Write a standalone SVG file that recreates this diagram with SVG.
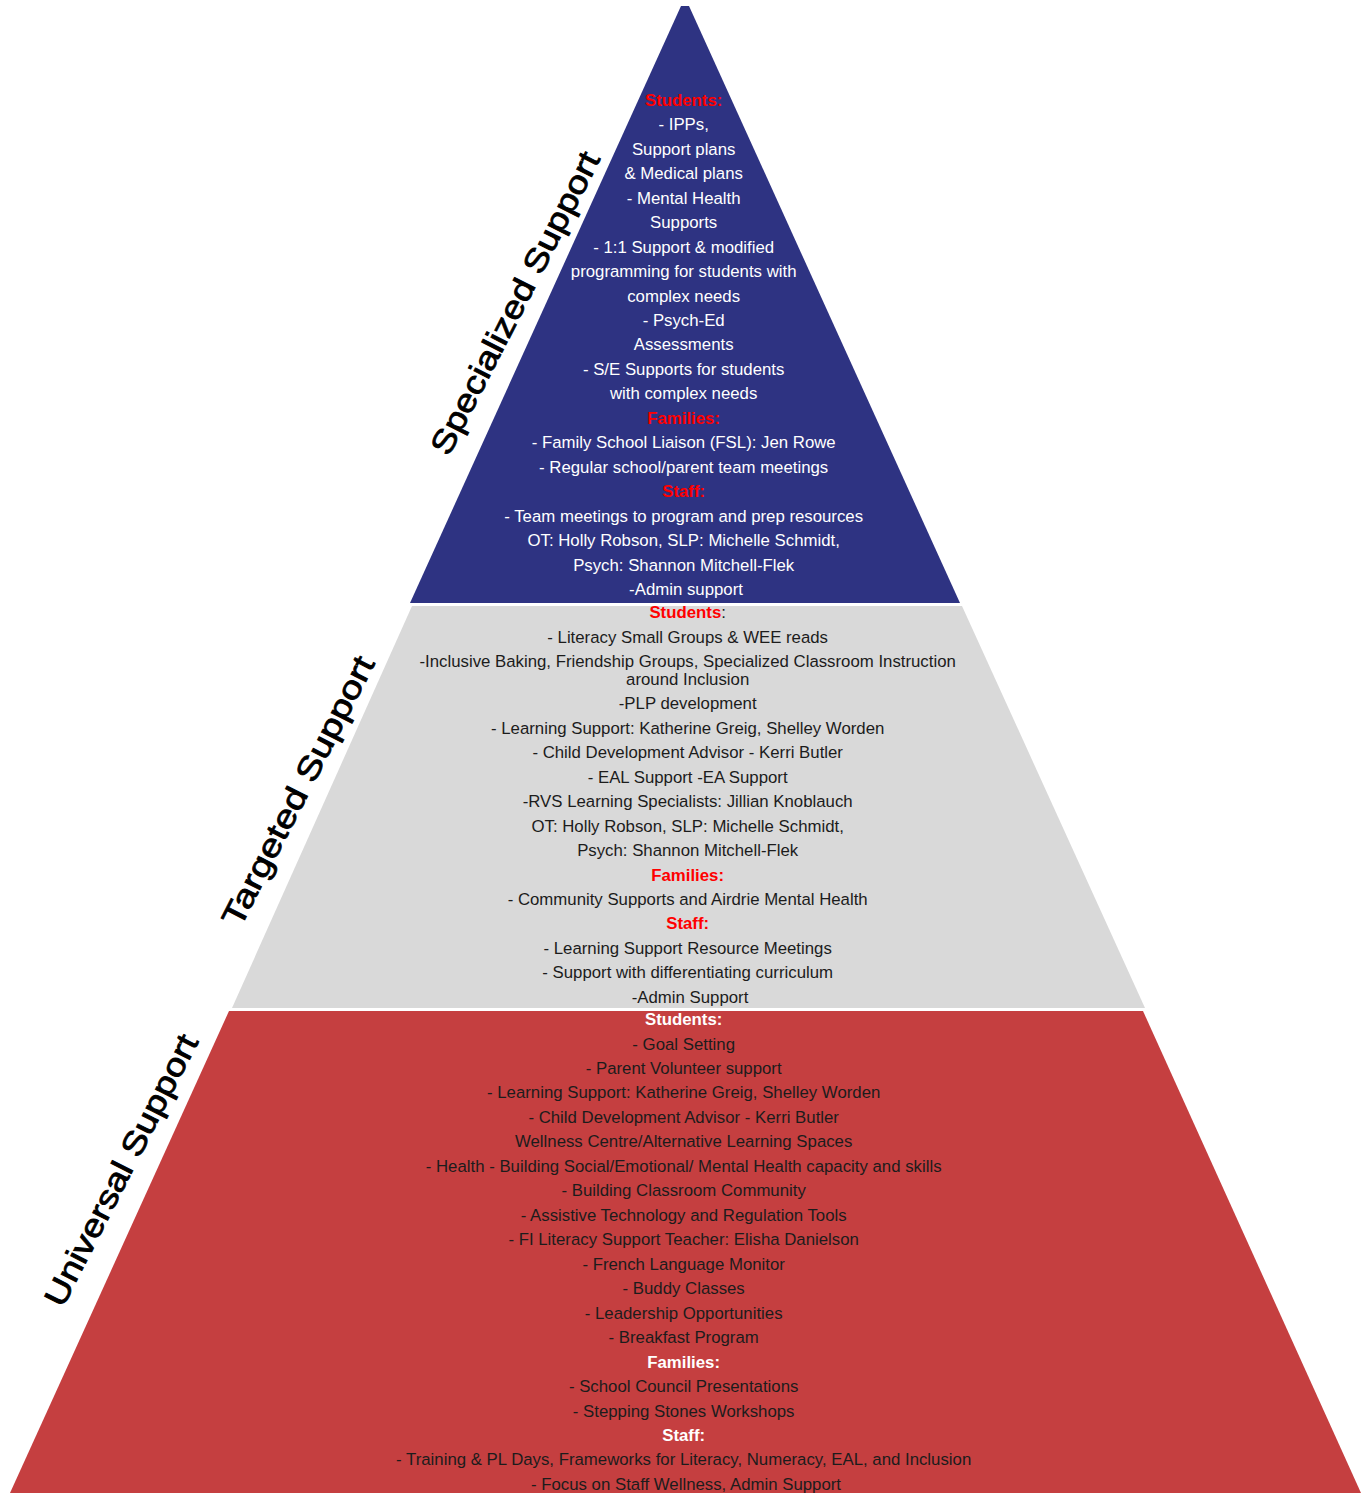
<svg xmlns="http://www.w3.org/2000/svg" width="1361" height="1493" viewBox="0 0 1361 1493">
<style>
.t{font-family:"Liberation Sans",Arial,sans-serif;font-size:16.8px;text-anchor:middle}
.w{fill:#ffffff}
.d{fill:#1c1c1c}
.h{font-weight:bold;fill:#ff0000}
.hw{font-weight:bold;fill:#ffffff}
.side{font-family:"Liberation Sans",Arial,sans-serif;font-size:32px;fill:#000;stroke:#000;stroke-width:0.8;text-anchor:middle}
</style>
<rect x="0" y="0" width="1361" height="1493" fill="#ffffff"/>
<g id="specialized">
<polygon points="681,6 689,6 960,603 410,603" fill="#2e3382"/>
<text class="t w">
<tspan x="686" y="106" class="h">Students:</tspan>
<tspan x="686" y="130">- IPPs,</tspan>
<tspan x="686" y="155">Support plans</tspan>
<tspan x="686" y="179">&amp;  Medical plans</tspan>
<tspan x="686" y="204">- Mental Health</tspan>
<tspan x="686" y="228">Supports</tspan>
<tspan x="686" y="253">-  1:1 Support &amp; modified</tspan>
<tspan x="686" y="277">programming for students with</tspan>
<tspan x="686" y="302">complex needs</tspan>
<tspan x="686" y="326">- Psych-Ed</tspan>
<tspan x="686" y="350">Assessments</tspan>
<tspan x="686" y="375">- S/E Supports for students</tspan>
<tspan x="686" y="399">with complex needs</tspan>
<tspan x="686" y="424" class="h">Families:</tspan>
<tspan x="686" y="448">- Family School Liaison (FSL): Jen Rowe</tspan>
<tspan x="686" y="473">- Regular school/parent team meetings</tspan>
<tspan x="686" y="497" class="h">Staff:</tspan>
<tspan x="686" y="522">- Team meetings to program and prep resources</tspan>
<tspan x="686" y="546">OT: Holly Robson,  SLP: Michelle Schmidt,</tspan>
<tspan x="686" y="571">Psych: Shannon Mitchell-Flek</tspan>
<tspan x="686" y="595">-Admin support</tspan>
</text>
<text class="side" transform="translate(515,303) rotate(-63)" x="0" y="11" textLength="335" lengthAdjust="spacingAndGlyphs">Specialized Support</text>
</g>
<g id="targeted">
<polygon points="412,606 962,606 1145,1008 232,1008" fill="#d9d9d9"/>
<text class="t d">
<tspan x="690" y="618"><tspan class="h">Students</tspan>:</tspan>
<tspan x="690" y="643">- Literacy Small Groups &amp; WEE reads</tspan>
<tspan x="690" y="667">-Inclusive Baking, Friendship Groups, Specialized Classroom Instruction</tspan>
<tspan x="690" y="685">around Inclusion</tspan>
<tspan x="690" y="709">-PLP development</tspan>
<tspan x="690" y="734">- Learning Support: Katherine Greig, Shelley Worden</tspan>
<tspan x="690" y="758">- Child Development Advisor - Kerri Butler</tspan>
<tspan x="690" y="783">- EAL Support -EA Support</tspan>
<tspan x="690" y="807">-RVS Learning Specialists: Jillian Knoblauch</tspan>
<tspan x="690" y="832">OT: Holly Robson,  SLP: Michelle Schmidt,</tspan>
<tspan x="690" y="856">Psych: Shannon Mitchell-Flek</tspan>
<tspan x="690" y="881" class="h">Families:</tspan>
<tspan x="690" y="905">- Community Supports and Airdrie Mental Health</tspan>
<tspan x="690" y="929" class="h">Staff:</tspan>
<tspan x="690" y="954">- Learning Support Resource Meetings</tspan>
<tspan x="690" y="978">- Support with differentiating curriculum</tspan>
<tspan x="690" y="1003">-Admin Support</tspan>
</text>
<text class="side" transform="translate(298,791) rotate(-63)" x="0" y="11" textLength="298" lengthAdjust="spacingAndGlyphs">Targeted Support</text>
</g>
<g id="universal">
<polygon points="229,1011 1143,1011 1361,1493 10,1493" fill="#c53f40"/>
<text class="t d">
<tspan x="686" y="1025" class="hw">Students:</tspan>
<tspan x="686" y="1050">- Goal Setting</tspan>
<tspan x="686" y="1074">- Parent Volunteer support</tspan>
<tspan x="686" y="1098">- Learning Support: Katherine Greig, Shelley Worden</tspan>
<tspan x="686" y="1123">- Child Development Advisor - Kerri Butler</tspan>
<tspan x="686" y="1147">Wellness Centre/Alternative Learning Spaces</tspan>
<tspan x="686" y="1172">- Health - Building Social/Emotional/ Mental Health capacity and skills</tspan>
<tspan x="686" y="1196">-  Building Classroom Community</tspan>
<tspan x="686" y="1221">- Assistive Technology and Regulation Tools</tspan>
<tspan x="686" y="1245">- FI Literacy Support Teacher: Elisha Danielson</tspan>
<tspan x="686" y="1270">- French Language Monitor</tspan>
<tspan x="686" y="1294">- Buddy Classes</tspan>
<tspan x="686" y="1319">- Leadership Opportunities</tspan>
<tspan x="686" y="1343">- Breakfast Program</tspan>
<tspan x="686" y="1368" class="hw">Families:</tspan>
<tspan x="686" y="1392">- School Council Presentations</tspan>
<tspan x="686" y="1417">- Stepping Stones Workshops</tspan>
<tspan x="686" y="1441" class="hw">Staff:</tspan>
<tspan x="686" y="1465">- Training &amp; PL Days, Frameworks for Literacy, Numeracy, EAL, and Inclusion</tspan>
<tspan x="686" y="1490">- Focus on Staff Wellness, Admin Support</tspan>
</text>
<text class="side" transform="translate(121,1170) rotate(-63)" x="0" y="11" textLength="300" lengthAdjust="spacingAndGlyphs">Universal Support</text>
</g>
<g id="connectors"></g>
</svg>
